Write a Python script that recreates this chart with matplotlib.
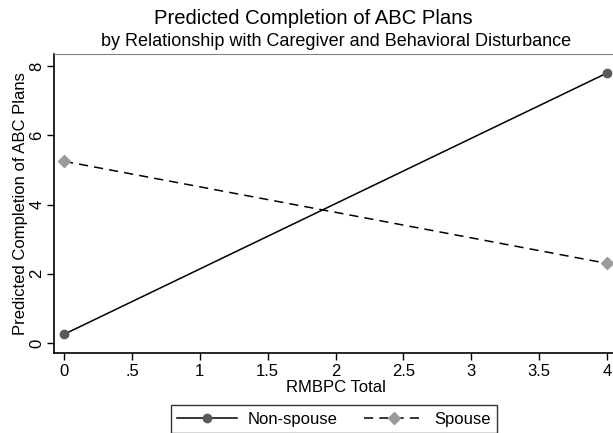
import matplotlib
matplotlib.use("Agg")
import matplotlib.pyplot as plt

plt.rcParams['font.family'] = ['Liberation Sans', 'DejaVu Sans']

# data
x_vals = [0, 4]
non_spouse = [0.25, 7.8]
spouse = [5.25, 2.3]

x_ticks = [0, 0.5, 1, 1.5, 2, 2.5, 3, 3.5, 4]
x_labels = ["0", ".5", "1", "1.5", "2", "2.5", "3", "3.5", "4"]
y_ticks = [0, 2, 4, 6, 8]
y_labels = ["0", "2", "4", "6", "8"]

fig = plt.figure(figsize=(6.13, 4.33), dpi=100)
ax = fig.add_axes([54/613, 80/433, 563/613, 299/433])

ax.plot(x_vals, non_spouse, color='black', lw=1.1, marker='o', ms=6,
        mfc='#5a5a5a', mec='#5a5a5a', label='Non-spouse')
ax.plot(x_vals, spouse, color='black', lw=1.1, ls=(0, (6, 4)), marker='D', ms=6,
        mfc='#9a9a9a', mec='#9a9a9a', label='Spouse')

ax.set_xlim(-0.074, 4.074)
ax.set_ylim(-0.29, 8.35)
ax.set_xticks(x_ticks)
ax.set_xticklabels(x_labels, fontsize=12)
ax.set_yticks(y_ticks)
ax.set_yticklabels(y_labels, fontsize=12, rotation=90, va='center')
ax.tick_params(direction='out', length=5, width=1, colors='black', pad=3)
ax.tick_params(axis='y', pad=2)

ax.spines['right'].set_visible(False)
ax.spines['top'].set_color('#808080')
ax.spines['left'].set_linewidth(1.2)
ax.spines['bottom'].set_linewidth(1.2)

ax.set_xlabel("RMBPC Total", fontsize=12, labelpad=1)
ax.set_ylabel("Predicted Completion of ABC Plans", fontsize=12, labelpad=1)

fig.text(313/613, 1 - 18/433, "Predicted Completion of ABC Plans",
         ha='center', va='center', fontsize=14.6)
fig.text(336/613, 1 - 41/433, "by Relationship with Caregiver and Behavioral Disturbance",
         ha='center', va='center', fontsize=13)

leg = fig.legend(loc='upper center', bbox_to_anchor=(334/613, 1 - 405/433), ncol=2,
                 fontsize=12, frameon=True, fancybox=False, edgecolor='black',
                 handlelength=3.6, columnspacing=1.6, borderpad=0.4, handletextpad=0.6,
                 borderaxespad=0)
leg.get_frame().set_linewidth(1.0)

fig.savefig("out.png", dpi=100)
